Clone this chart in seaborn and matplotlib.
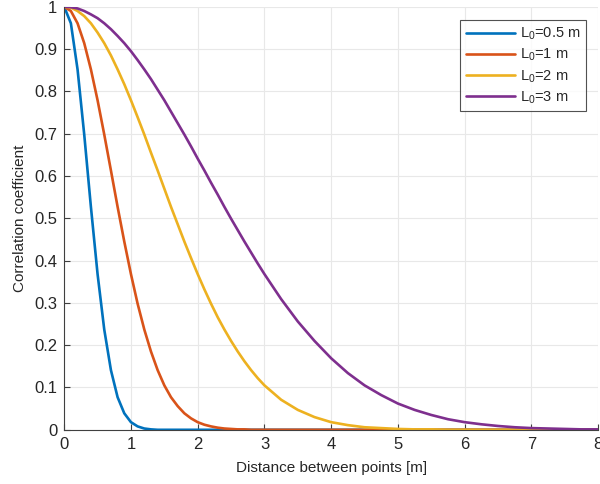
import numpy as np
import pandas as pd
import seaborn as sns
import matplotlib
matplotlib.use("Agg")
import matplotlib.pyplot as plt

# values
distance = [0, 0.1, 0.2, 0.3, 0.4, 0.5, 0.6, 0.7, 0.8, 0.9,
            1.0, 1.1, 1.2, 1.3, 1.4, 1.5, 1.6, 1.7, 1.8, 1.9,
            2.0, 2.1, 2.2, 2.3, 2.4, 2.5, 2.6, 2.7, 2.8, 2.9,
            3.0, 3.25, 3.5, 3.75, 4.0, 4.25, 4.5, 4.75, 5.0, 5.25,
            5.5, 5.75, 6.0, 6.25, 6.5, 6.75, 7.0, 7.25, 7.5, 7.75, 8.0]
rho_05 = [1, 0.961, 0.852, 0.698, 0.527, 0.368, 0.237, 0.141, 0.077, 0.039,
          0.018, 0.008, 0.003, 0.001, 0, 0, 0, 0, 0, 0,
          0, 0, 0, 0, 0, 0, 0, 0, 0, 0,
          0, 0, 0, 0, 0, 0, 0, 0, 0, 0,
          0, 0, 0, 0, 0, 0, 0, 0, 0, 0, 0]
rho_1 = [1, 0.990, 0.961, 0.914, 0.852, 0.779, 0.698, 0.613, 0.527, 0.445,
         0.368, 0.298, 0.237, 0.185, 0.141, 0.105, 0.077, 0.056, 0.039, 0.027,
         0.018, 0.012, 0.008, 0.005, 0.003, 0.002, 0.001, 0.001, 0, 0,
         0, 0, 0, 0, 0, 0, 0, 0, 0, 0,
         0, 0, 0, 0, 0, 0, 0, 0, 0, 0, 0]
rho_2 = [1, 0.998, 0.990, 0.978, 0.961, 0.939, 0.914, 0.885, 0.852, 0.817,
         0.779, 0.739, 0.698, 0.655, 0.613, 0.570, 0.527, 0.486, 0.445, 0.406,
         0.368, 0.332, 0.298, 0.266, 0.237, 0.210, 0.185, 0.162, 0.141, 0.122,
         0.105, 0.071, 0.047, 0.030, 0.018, 0.011, 0.006, 0.004, 0.002, 0.001,
         0.001, 0, 0, 0, 0, 0, 0, 0, 0, 0, 0]
rho_3 = [1, 0.999, 0.996, 0.990, 0.982, 0.973, 0.961, 0.947, 0.931, 0.914,
         0.895, 0.874, 0.852, 0.829, 0.804, 0.779, 0.752, 0.725, 0.698, 0.670,
         0.641, 0.613, 0.584, 0.556, 0.527, 0.499, 0.472, 0.445, 0.419, 0.393,
         0.368, 0.309, 0.256, 0.210, 0.169, 0.134, 0.105, 0.082, 0.062, 0.047,
         0.035, 0.025, 0.018, 0.013, 0.009, 0.006, 0.004, 0.003, 0.002, 0.001, 0.001]
labels = ["L$_0$=0.5 m", "L$_0$=1 m", "L$_0$=2 m", "L$_0$=3 m"]
colors = ["#0072BD", "#D95319", "#EDB120", "#7E2F8E"]

df = pd.DataFrame({"distance": distance, labels[0]: rho_05, labels[1]: rho_1,
                   labels[2]: rho_2, labels[3]: rho_3})
df = df.melt(id_vars="distance", var_name="L0", value_name="rho")

sns.set_style("whitegrid")
plt.rcParams["font.family"] = ["Liberation Sans", "DejaVu Sans"]
plt.rcParams["mathtext.fontset"] = "custom"
plt.rcParams["mathtext.rm"] = "Liberation Sans"

fig = plt.figure(figsize=(6, 4.84), dpi=100)
ax = fig.add_axes([0.107, 0.112, 0.89, 0.874])
sns.lineplot(data=df, x="distance", y="rho", hue="L0", palette=colors,
             linewidth=1.9, ax=ax, sort=False)

ax.set_xlim(0, 8)
ax.set_ylim(0, 1)
ax.set_xticks(range(0, 9))
ax.set_yticks(np.round(np.arange(0, 1.01, 0.1), 1))
ax.set_yticklabels(["0", "0.1", "0.2", "0.3", "0.4", "0.5", "0.6", "0.7", "0.8", "0.9", "1"])
ax.grid(True, color="#e8e8e8", linewidth=0.8)
ax.tick_params(axis="both", direction="in", length=4, width=0.8, color="#404040",
               labelsize=12, labelcolor="#262626", pad=5, left=True, bottom=True)
for s in ["top", "right"]:
    ax.spines[s].set_visible(False)
for s in ["left", "bottom"]:
    ax.spines[s].set_color("#404040")
    ax.spines[s].set_linewidth(0.8)
ax.set_xlabel("Distance between points [m]", fontsize=11, color="#262626", labelpad=7)
ax.set_ylabel("Correlation coefficient", fontsize=11, color="#262626", labelpad=5)

leg = ax.legend(title=None, loc="upper right", bbox_to_anchor=(0.9775, 0.969), fontsize=10.5,
                frameon=True, fancybox=False, handlelength=3.4, borderpad=0.4,
                labelspacing=0.3, handletextpad=0.3, borderaxespad=0)
leg.get_frame().set_edgecolor("#262626")
leg.get_frame().set_linewidth(0.8)
for line in leg.get_lines():
    line.set_linewidth(1.9)

fig.savefig("out.png", dpi=100)
